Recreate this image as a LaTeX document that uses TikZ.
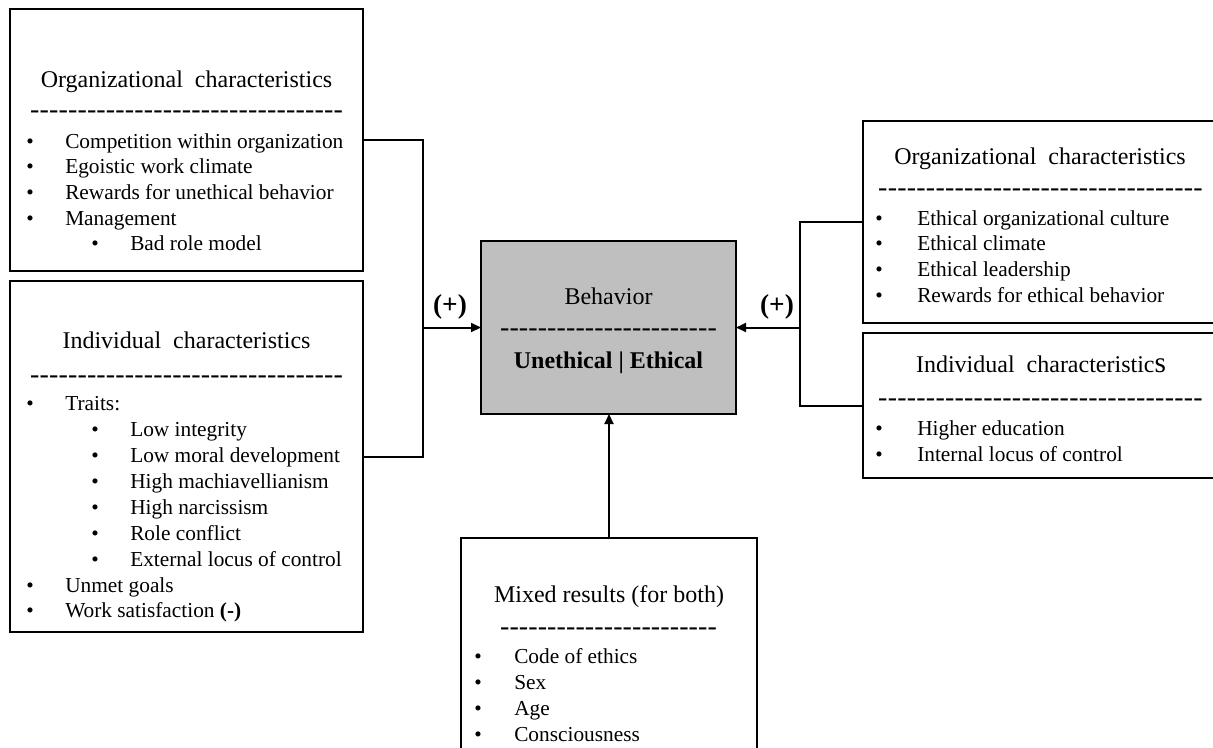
\documentclass[tikz,border=0pt]{standalone}
\usepackage{fontspec}
\setmainfont{Liberation Serif}
\usetikzlibrary{arrows.meta}
% bullet set in a box of given width, followed by the item text
\newcommand\bul[1]{\makebox[#1][l]{\textbullet}}
% a row of hyphens filling the given width
\newcommand\hyphrow[1]{\hbox to #1{\xleaders\hbox{-}\hfill}}

\begin{document}
\begin{tikzpicture}[x=0.75pt,y=-0.75pt,
  box/.style={draw,line width=1.1pt,inner sep=0pt,outer sep=0pt,anchor=north west,fill=white},
  title/.style={anchor=base,inner sep=0pt,font=\fontsize{18}{21}\selectfont},
  hyph/.style={anchor=base,inner sep=0pt,font=\fontsize{21}{21}\selectfont},
  item/.style={anchor=base west,inner sep=0pt,font=\fontsize{16}{19}\selectfont},
  conn/.style={line width=1.5pt},
  arr/.style={conn,-{Triangle[length=7.5pt,width=6.75pt]}},
  sign/.style={anchor=base,inner sep=0pt,font=\bfseries\fontsize{20.5}{24}\selectfont}]
\useasboundingbox (0,0) rectangle (1213,747);
\clip (0,0) rectangle (1213,747);

% ---------- boxes ----------
\node[box,minimum width=264.75pt,minimum height=196.5pt] (tl) at (10,9) {};
\node[box,minimum width=264.75pt,minimum height=263.25pt] (bl) at (10,281) {};
\node[box,minimum width=191.25pt,minimum height=129.75pt,fill={rgb,255:red,191;green,191;blue,191}] (beh) at (481,241) {};
\node[box,minimum width=270pt,minimum height=151.5pt] (tr) at (863,121) {};
\node[box,minimum width=270pt,minimum height=108.75pt] (br) at (863,333) {};
\node[box,minimum width=222pt,minimum height=172.5pt] (mix) at (461,538) {};

% ---------- organizational characteristics (unethical side) ----------
\node[title] (tl-title) at (186.5,87) {Organizational\ \ characteristics};
\node[hyph] (tl-rule) at (186.5,118) {\hyphrow{234.75pt}};
\foreach \lv/\t [count=\i from 0] in {0/Competition within organization,
    0/Egoistic work climate, 0/Rewards for unethical behavior,
    0/Management, 1/Bad role model}
  \node[item] (tl-\i) at ({26+65*\lv},{148+25.7*\i}) {\bul{29.25pt}\t};

% ---------- individual characteristics (unethical side) ----------
\node[title] (bl-title) at (186.5,348) {Individual\ \ characteristics};
\node[hyph] (bl-rule) at (186.5,383) {\hyphrow{234.75pt}};
\foreach \lv/\t [count=\i from 0] in {0/Traits:, 1/Low integrity,
    1/Low moral development, 1/High machiavellianism, 1/High narcissism,
    1/Role conflict, 1/External locus of control, 0/Unmet goals,
    0/Work satisfaction \textbf{(-)}}
  \node[item] (bl-\i) at ({26+65*\lv},{410.7+25.9*\i}) {\bul{29.25pt}\t};

% ---------- behavior ----------
\node[title] (beh-title) at (608.5,304) {Behavior};
\node[hyph] (beh-rule) at (608.5,336) {\hyphrow{162.75pt}};
\node[title,font=\bfseries\fontsize{18}{21}\selectfont] (beh-sub) at (608.5,368) {Unethical | Ethical};

% ---------- organizational characteristics (ethical side) ----------
\node[title] (tr-title) at (1040,164) {Organizational\ \ characteristics};
\node[hyph] (tr-rule) at (1040.5,196) {\hyphrow{243.75pt}};
\foreach \t [count=\i from 0] in {Ethical organizational culture,
    Ethical climate, Ethical leadership, Rewards for ethical behavior}
  \node[item] (tr-\i) at (875,{225+25.7*\i}) {\bul{31.5pt}\t};

% ---------- individual characteristics (ethical side) ----------
\node[title] (br-title) at (1041,372) {Individual\ \ characteristic{\fontsize{22}{22}\selectfont s}};
\node[hyph] (br-rule) at (1040.5,406) {\hyphrow{243.75pt}};
\foreach \t [count=\i from 0] in {Higher education, Internal locus of control}
  \node[item] (br-\i) at (875,{435+26*\i}) {\bul{31.5pt}\t};

% ---------- mixed results ----------
\node[title] (mix-title) at (609,602) {Mixed results (for both)};
\node[hyph] (mix-rule) at (608.5,635) {\hyphrow{162.75pt}};
\foreach \t [count=\i from 0] in {Code of ethics, Sex, Age, Consciousness}
  \node[item] (mix-\i) at (474,{663+26*\i}) {\bul{30pt}\t};

% ---------- connectors ----------
\coordinate (jl) at (423,327.5);
\coordinate (jr) at (800,327.5);
\draw[conn] (tl.east) -| (jl) |- (bl.east);
\draw[arr] (jl) -- (beh.west);
\draw[conn] (tr.west) -| (jr) |- (br.west);
\draw[arr] (jr) -- (beh.east);
\draw[arr] (mix.north) -- (mix.north |- beh.south);

\node[sign] (plus-l) at (450,313) {(+)};
\node[sign] (plus-r) at (777,313) {(+)};
\end{tikzpicture}
\end{document}
